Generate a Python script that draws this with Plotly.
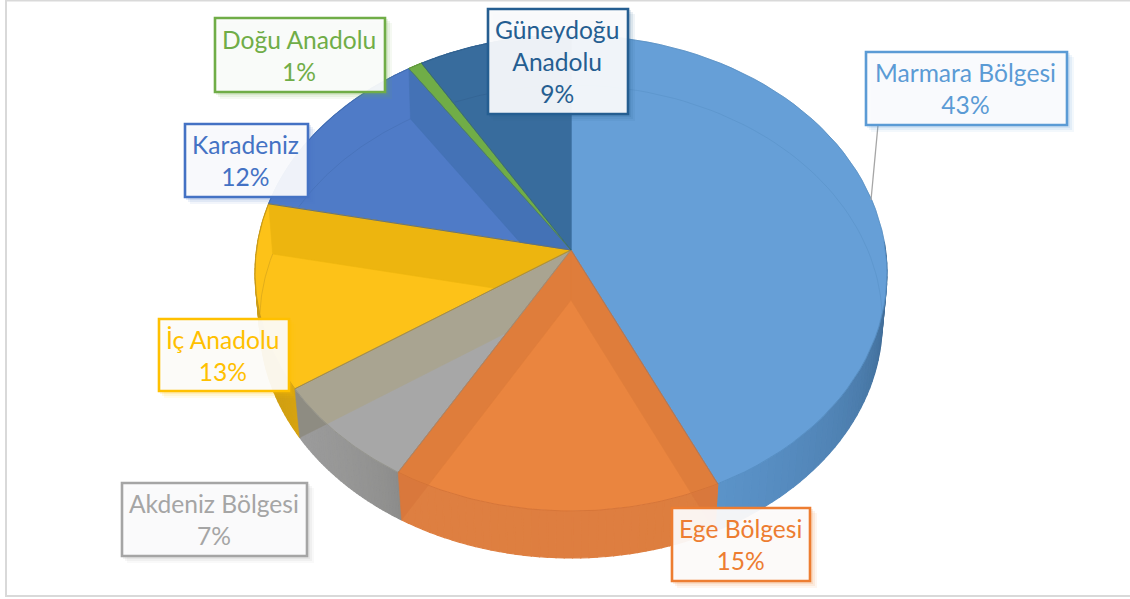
import math
import plotly.graph_objects as go

# ---- data ----
regions = ["Marmara Bölgesi", "Ege Bölgesi", "Akdeniz Bölgesi", "İç Anadolu",
           "Karadeniz", "Doğu Anadolu", "Güneydoğu Anadolu"]
shares = [43.0, 15.4, 7.2, 12.6, 12.4, 0.8, 8.6]
label_text = ["Marmara Bölgesi", "Ege Bölgesi", "Akdeniz Bölgesi", "İç Anadolu",
              "Karadeniz", "Doğu Anadolu", "Güneydoğu<br>Anadolu"]

# ---- styles ----
accent = ["#5b9bd5", "#ed7d31", "#a5a5a5", "#ffc000", "#4472c4", "#70ad47", "#255e91"]
face = ["#669fd7", "#ea853f", "#a7a7a7", "#fdc218", "#4f7bc7", "#70ad47", "#386c9d"]
strip = ["#659fd6", "#df7d3b", "#a9a491", "#edb50f", "#4472b6", "#65a03e", "#376b9c"]
corner = ["#5b93c9", "#d9783c", "#8e8c82", "#c79a15", "#4472b6", "#65a03e", "#376b9c"]
edge_col = ["#5189bd", "#cf7036", "#8f8f85", "#b08a20", "#3c66a8", "#5a8f3a", "#2e5c88"]
wall_a = ["#2c4e70", "#dd7d3e", "#8a8a88", "#d9a40f", "#4472b6", "#65a03e", "#376b9c"]
wall_b = ["#5b93c9", "#de7f41", "#9c9c9c", "#c79a15", "#4472b6", "#65a03e", "#376b9c"]

TOP = dict(cy=250, A=314.5, B=235.8, k=0.0966)
BOT = dict(cy=300, A=310.0, B=234.5, k=0.0909)
CX = 571

boxes = [(866, 52, 1067, 125), (672, 508, 810, 581), (122, 483, 307, 556),
         (159, 319, 289, 391), (185, 124, 308, 197), (215, 18, 385, 92), (488, 9, 628, 114)]


def proj(th, m):
    u, v = math.sin(th), math.cos(th)
    d = 1 + m["k"] * v
    return (CX + m["A"] * u / d, m["cy"] - m["B"] * v / d)


def apex(m):
    return (CX, m["cy"])


def arc(a, b, m, n=60):
    return [proj(a + (b - a) * i / n, m) for i in range(n + 1)]


def wedge(a, b, m):
    return [apex(m)] + arc(a, b, m)


def orient(pts):
    area = sum(pts[i][0] * pts[(i + 1) % len(pts)][1] - pts[(i + 1) % len(pts)][0] * pts[i][1]
               for i in range(len(pts)))
    return pts if area > 0 else pts[::-1]


def clip(subject, clipper):
    """Sutherland-Hodgman clip of subject against a convex clipper."""
    clipper = orient(clipper)
    out = subject
    n = len(clipper)
    for i in range(n):
        p, q = clipper[i], clipper[(i + 1) % n]
        if abs(p[0] - q[0]) + abs(p[1] - q[1]) < 1e-9:
            continue
        side = lambda r: (q[0] - p[0]) * (r[1] - p[1]) - (q[1] - p[1]) * (r[0] - p[0])
        inp, out = out, []
        for j in range(len(inp)):
            s, e = inp[j], inp[(j + 1) % len(inp)]
            fs, fe = side(s), side(e)
            if fs >= 0:
                out.append(s)
            if (fs >= 0) != (fe >= 0):
                t = fs / (fs - fe)
                out.append((s[0] + t * (e[0] - s[0]), s[1] + t * (e[1] - s[1])))
        if not out:
            return []
    return out


def mix(c1, c2, t):
    a = [int(c1[i:i + 2], 16) for i in (1, 3, 5)]
    b = [int(c2[i:i + 2], 16) for i in (1, 3, 5)]
    return "#%02x%02x%02x" % tuple(round(a[i] + (b[i] - a[i]) * t) for i in range(3))


fig = go.Figure()


def poly(points, fill, line=None, width=0.6):
    if not points:
        return
    xs = [p[0] for p in points] + [points[0][0]]
    ys = [p[1] for p in points] + [points[0][1]]
    fig.add_trace(go.Scatter(x=xs, y=ys, mode="lines", fill="toself", fillcolor=fill,
                             line=dict(color=line or fill, width=width),
                             hoverinfo="skip", showlegend=False))


total = sum(shares)
edges = [0.0]
for s in shares:
    edges.append(edges[-1] + 2 * math.pi * s / total)

WALL_START = math.radians(88)


def side_wall(th):
    return [apex(TOP), proj(th, TOP), proj(th, BOT), apex(BOT)]


# which slice shows which radial wall through its translucent top
see_through = [(1, edges[1]), (1, edges[2]), (2, edges[3]), (3, edges[4]), (4, edges[5])]

# outer walls, in bands so that they shade along the rim
for i in range(len(shares)):
    a, b = edges[i], edges[i + 1]
    start = max(a, WALL_START)
    if start >= b:
        continue
    N = 40
    for j in range(N):
        t0 = start + (b - start) * j / N
        t1 = start + (b - start) * (j + 1) / N
        seg = arc(t0, t1, TOP, 3) + arc(t1, t0, BOT, 3)
        f = ((j + 0.5) / N) ** 0.5
        poly(seg, mix(wall_a[i], wall_b[i], f), width=1.2)

# the radial wall where it shows below the rim
for i, th in see_through:
    a, b = edges[i], edges[i + 1]
    wall = arc(a, b, TOP) + arc(b, a, BOT)
    poly(clip(wall, side_wall(th)), corner[i])

# top faces
for i in range(len(shares)):
    poly(wedge(edges[i], edges[i + 1], TOP), face[i])

# radial walls seen through the top faces
for i, th in see_through:
    top = wedge(edges[i], edges[i + 1], TOP)
    poly(clip(side_wall(th), top), strip[i])

# outlines of the top faces
for i in range(len(shares)):
    pts = wedge(edges[i], edges[i + 1], TOP)
    fig.add_trace(go.Scatter(x=[p[0] for p in pts] + [pts[0][0]], y=[p[1] for p in pts] + [pts[0][1]],
                             mode="lines", line=dict(color=edge_col[i], width=0.7),
                             hoverinfo="skip", showlegend=False))

# floor rim seen through the faces
for i in range(len(shares)):
    a, b = edges[i], edges[i + 1]
    top = wedge(a, b, TOP)
    xs, ys = [], []
    for p in arc(a, b, BOT, 80):
        inside = clip([p, (p[0] + .01, p[1]), (p[0], p[1] + .01)], top)
        xs.append(p[0] if inside else None)
        ys.append(p[1] if inside else None)
    fig.add_trace(go.Scatter(x=xs, y=ys, mode="lines",
                             line=dict(color=mix(edge_col[i], face[i], 0.4), width=0.6),
                             hoverinfo="skip", showlegend=False))

shapes = [dict(type="line", x0=878, y0=125, x1=871, y1=200,
               line=dict(color="#a6a6a6", width=1.3))]
for (x0, y0, x1, y1), c in zip(boxes, accent):
    rgb = tuple(int(c[k:k + 2], 16) for k in (1, 3, 5))
    for off, al in ((7, .07), (5, .10), (3, .14)):
        shapes.append(dict(type="rect", x0=x0 + off - 2, y0=y0 + off - 2, x1=x1 + off, y1=y1 + off,
                           line=dict(width=0), fillcolor="rgba(%d,%d,%d,%.2f)" % (*rgb, al)))
    shapes.append(dict(type="rect", x0=x0, y0=y0, x1=x1, y1=y1,
                       line=dict(color=c, width=2.6), fillcolor="rgba(252,252,253,0.93)"))

shapes.append(dict(type="rect", x0=6, y0=0.5, x1=1140, y1=596,
                   line=dict(color="#d9d9d9", width=2), fillcolor="rgba(0,0,0,0)"))

annotations = []
for txt, pct, (x0, y0, x1, y1), c in zip(label_text, shares, boxes, accent):
    annotations.append(dict(x=(x0 + x1) / 2 - 1, y=(y0 + y1) / 2, xref="x", yref="y",
                            text=f"{txt}<br>{round(pct)}%", showarrow=False, align="center",
                            font=dict(family="Lato", size=24.6, color=c)))

fig.update_layout(width=1130, height=599, autosize=False,
                  margin=dict(l=0, r=0, t=0, b=0),
                  paper_bgcolor="white", plot_bgcolor="white",
                  xaxis=dict(range=[0, 1130], visible=False, fixedrange=True),
                  yaxis=dict(range=[599, 0], visible=False, fixedrange=True),
                  shapes=shapes, annotations=annotations)
fig.write_html("out.html", config=dict(displayModeBar=False),
               post_script="document.body.style.margin='0';document.body.style.overflow='hidden';")
